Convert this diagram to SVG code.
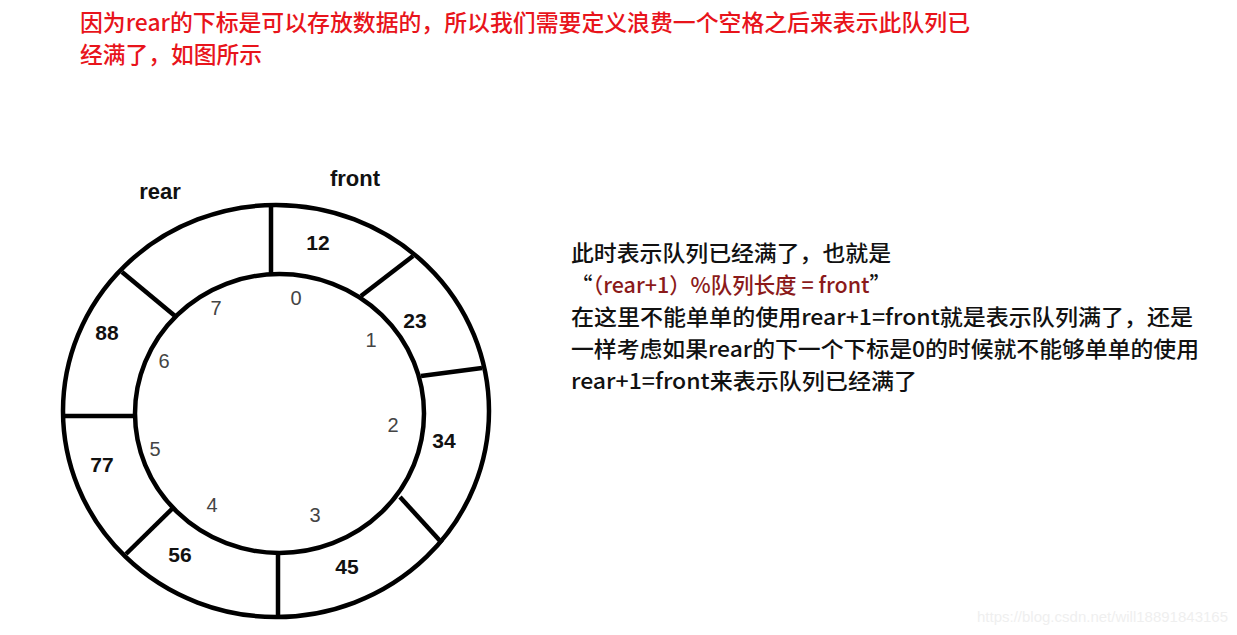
<svg xmlns="http://www.w3.org/2000/svg" width="1237" height="635" viewBox="0 0 1237 635">
<style>
.cjk{font-family:"Noto Sans CJK SC","Liberation Sans",sans-serif;font-weight:500}
.title{fill:#e8141b;font-size:22.5px}
.body{fill:#111;font-size:21.5px}
.ring{fill:none;stroke:#000;stroke-width:4.5}
.div{stroke:#000;stroke-width:4.5;stroke-linecap:butt}
.val{font-family:"Liberation Sans",Arial,sans-serif;font-weight:bold;font-size:21px;fill:#111;text-anchor:middle}
.idx{font-family:"Liberation Sans",Arial,sans-serif;font-size:20px;fill:#444;text-anchor:middle}
.ptr{font-family:"Liberation Sans",Arial,sans-serif;font-weight:bold;font-size:22px;fill:#111;text-anchor:middle}
</style>
<rect width="1237" height="635" fill="#fff"/>
<g id="title">
<text class="cjk title" x="80" y="31" textLength="890" lengthAdjust="spacingAndGlyphs">因为rear的下标是可以存放数据的，所以我们需要定义浪费一个空格之后来表示此队列已</text>
<text class="cjk title" x="80" y="63" textLength="182" lengthAdjust="spacingAndGlyphs">经满了，如图所示</text>
</g>
<g id="ring">
<ellipse class="ring" cx="276" cy="411" rx="213" ry="206"/>
<ellipse class="ring" cx="279.5" cy="413.5" rx="144.5" ry="139.5"/>
</g>
<g id="connectors">
<line class="div" x1="271" y1="205" x2="271" y2="275"/>
<line class="div" x1="413" y1="256" x2="361" y2="296"/>
<line class="div" x1="421" y1="376" x2="482" y2="368"/>
<line class="div" x1="400" y1="497" x2="442" y2="543"/>
<line class="div" x1="278" y1="553" x2="278" y2="616"/>
<line class="div" x1="174" y1="507" x2="126" y2="554"/>
<line class="div" x1="64" y1="416" x2="135" y2="416"/>
<line class="div" x1="122" y1="272" x2="175" y2="316"/>
</g>
<g id="cells">
<text class="val" x="318" y="250">12</text>
<text class="val" x="415" y="328">23</text>
<text class="val" x="444" y="448">34</text>
<text class="val" x="347" y="574">45</text>
<text class="val" x="180" y="562">56</text>
<text class="val" x="102" y="472">77</text>
<text class="val" x="107" y="340">88</text>
</g>
<g id="indices">
<text class="idx" x="296" y="305">0</text>
<text class="idx" x="371" y="347">1</text>
<text class="idx" x="393" y="432">2</text>
<text class="idx" x="315" y="522">3</text>
<text class="idx" x="212" y="512">4</text>
<text class="idx" x="155" y="456">5</text>
<text class="idx" x="164" y="368">6</text>
<text class="idx" x="216" y="315">7</text>
</g>
<g id="pointers">
<text class="ptr" x="160" y="199">rear</text>
<text class="ptr" x="355" y="186">front</text>
</g>
<g id="explanation">
<text class="cjk body" x="571" y="261" textLength="320" lengthAdjust="spacingAndGlyphs">此时表示队列已经满了，也就是</text>
<text class="cjk body" x="571" y="293" textLength="320" lengthAdjust="spacingAndGlyphs">“<tspan fill="#8b1a1a">（rear+1）%队列长度 = front</tspan>”</text>
<text class="cjk body" x="571" y="325" textLength="622" lengthAdjust="spacingAndGlyphs">在这里不能单单的使用rear+1=front就是表示队列满了，还是</text>
<text class="cjk body" x="571" y="357" textLength="628" lengthAdjust="spacingAndGlyphs">一样考虑如果rear的下一个下标是0的时候就不能够单单的使用</text>
<text class="cjk body" x="571" y="389" textLength="346" lengthAdjust="spacingAndGlyphs">rear+1=front来表示队列已经满了</text>
</g>
<g id="watermark">
<text x="1228" y="622" font-family="Liberation Sans,Arial,sans-serif" font-size="15" fill="#efefef" text-anchor="end">https://blog.csdn.net/will18891843165</text>
</g>
</svg>
